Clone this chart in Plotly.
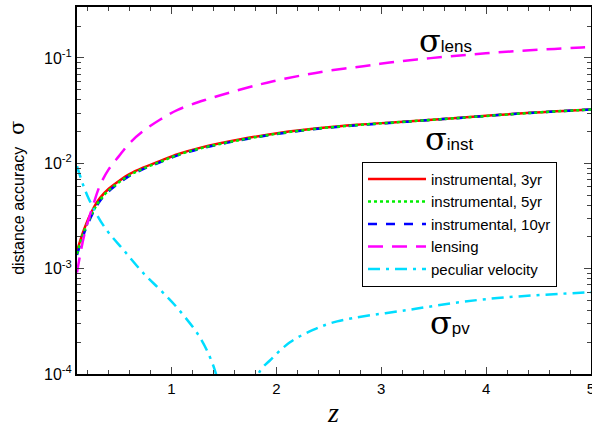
import plotly.graph_objects as go

# ---- data ----
z_inst = [0.1, 0.17, 0.26, 0.32, 0.40, 0.50, 0.60, 0.73, 0.89, 1.06, 1.28, 1.66, 2.04, 2.42, 2.77, 3.14, 3.75, 4.42, 5.0]
inst_3yr = [0.00147, 0.0024, 0.0038, 0.0047, 0.0057, 0.0068, 0.0079, 0.0091, 0.0105, 0.0122, 0.0141, 0.0169, 0.0195, 0.0216, 0.0232, 0.0246, 0.0271, 0.0302, 0.0325]
inst_5yr = [0.00138, 0.0023, 0.0036, 0.0045, 0.0055, 0.0066, 0.0077, 0.0089, 0.0103, 0.0120, 0.0139, 0.0167, 0.0193, 0.0215, 0.0231, 0.0245, 0.0270, 0.0301, 0.0324]
inst_10yr = [0.00135, 0.0022, 0.0035, 0.0044, 0.0054, 0.0065, 0.0076, 0.0088, 0.0102, 0.0119, 0.0138, 0.0166, 0.0192, 0.0214, 0.0230, 0.0244, 0.0270, 0.0301, 0.0324]

z_lens = [0.1, 0.17, 0.26, 0.32, 0.40, 0.50, 0.60, 0.73, 0.89, 1.06, 1.34, 1.72, 1.97, 2.23, 2.48, 2.83, 3.08, 3.34, 3.61, 3.87, 4.12, 4.38, 4.65, 4.91, 5.0]
lensing = [0.00092, 0.0021, 0.0042, 0.0062, 0.0087, 0.0117, 0.0155, 0.0202, 0.0259, 0.0322, 0.0405, 0.0521, 0.0602, 0.0680, 0.0752, 0.0836, 0.0905, 0.0968, 0.1026, 0.108, 0.1132, 0.1178, 0.122, 0.126, 0.1275]

# peculiar velocity dips below the axis between z~1.42 and z~1.83 (None = gap)
z_pv = [0.1, 0.2, 0.36, 0.55, 0.74, 0.9, 1.06, 1.28, 1.41, 1.46, None, 1.79, 1.84, 1.95, 2.13, 2.35, 2.58, 3.25, 4.0, 5.0]
pec_vel = [0.0094, 0.0049, 0.0025, 0.00148, 0.00089, 0.00062, 0.00042, 0.000216, 0.000112, 0.00007, None, 0.00007, 0.000105, 0.000138, 0.0002, 0.000262, 0.000316, 0.000405, 0.000514, 0.000598]

y_tickvals = [1e-4, 1e-3, 1e-2, 1e-1]
y_ticktext = ["10<sup>-4</sup>", "10<sup>-3</sup>", "10<sup>-2</sup>", "10<sup>-1</sup>"]
x_tickvals = [1, 2, 3, 4, 5]

y_minor = [m * 10.0 ** e for e in (-4, -3, -2) for m in range(2, 10)] + [0.2, 0.3]

fig = go.Figure()
fig.add_trace(go.Scatter(x=z_inst, y=inst_3yr, mode="lines", name="instrumental, 3yr",
                         line=dict(color="#ff0000", width=2.5, shape="spline"), legendrank=1))
fig.add_trace(go.Scatter(x=z_inst, y=inst_10yr, mode="lines", name="instrumental, 10yr",
                         line=dict(color="#0000ff", width=2.5, dash="dash", shape="spline"),
                         legendrank=3))
fig.add_trace(go.Scatter(x=z_inst, y=inst_5yr, mode="lines", name="instrumental, 5yr",
                         line=dict(color="#00ee00", width=2.5, dash="dot", shape="spline"),
                         legendrank=2))
fig.add_trace(go.Scatter(x=z_lens, y=lensing, mode="lines", name="lensing",
                         line=dict(color="#ff00ff", width=2.5, dash="15px,9px", shape="spline"),
                         legendrank=4))
fig.add_trace(go.Scatter(x=z_pv, y=pec_vel, mode="lines", name="peculiar velocity",
                         line=dict(color="#00ddff", width=2.5, dash="12px,6px,3px,6px", shape="spline"),
                         connectgaps=False, legendrank=5))

font_sans = "Liberation Sans, Arial, sans-serif"
font_serif = "Liberation Serif, Times New Roman, serif"

fig.update_layout(
    width=592, height=428,
    margin=dict(l=77, r=1, t=7, b=54, autoexpand=False),
    paper_bgcolor="white", plot_bgcolor="white",
    font=dict(family=font_sans, size=14, color="black"),
    showlegend=True,
    legend=dict(x=0.5545, y=0.578, xanchor="left", yanchor="top",
                bordercolor="black", borderwidth=1, bgcolor="white",
                font=dict(size=15, family=font_sans), tracegroupgap=0,
                itemwidth=58),
    xaxis=dict(range=[0.1, 5], tickvals=x_tickvals, ticks="inside", ticklen=7,
               showline=True, linecolor="black", linewidth=2, mirror="allticks",
               showgrid=False, zeroline=False, tickfont=dict(size=15),
               automargin=False, ticklabeloverflow="allow",
               minor=dict(dtick=0.2, tick0=0, ticks="inside", ticklen=4, showgrid=False)),
    yaxis=dict(type="log", range=[-4, -0.516], tickmode="array", tickvals=y_tickvals,
               ticktext=y_ticktext, ticks="inside", ticklen=7,
               showline=True, linecolor="black", linewidth=2, mirror="allticks",
               showgrid=False, zeroline=False, tickfont=dict(size=16),
               automargin=False, ticklabeloverflow="allow",
               minor=dict(tickmode="array", tickvals=y_minor, ticks="inside", ticklen=4,
                          showgrid=False)),
)

sig = "<span style='font-family:DejaVu Serif, serif;font-size:32px'>σ</span>"
fig.add_annotation(xref="paper", yref="paper", x=0.6615, y=0.907, xanchor="left", yanchor="middle",
                   text=sig + "<span style='font-size:17px'>lens</span>", showarrow=False)
fig.add_annotation(xref="paper", yref="paper", x=0.674, y=0.640, xanchor="left", yanchor="middle",
                   text=sig + "<span style='font-size:17px'>inst</span>", showarrow=False)
fig.add_annotation(xref="paper", yref="paper", x=0.683, y=0.139, xanchor="left", yanchor="middle",
                   text=sig + "<span style='font-size:17px'>pv</span>", showarrow=False)

fig.add_annotation(xref="paper", yref="paper", x=-0.1167, y=0.48, xanchor="center", yanchor="middle",
                   textangle=-90, showarrow=False,
                   text="<span style='font-size:16px'>distance accuracy</span>   "
                        "<span style='font-family:DejaVu Serif, serif;font-size:21px'>σ</span>")
fig.add_annotation(xref="paper", yref="paper", x=0.498, y=-0.104, xanchor="center", yanchor="middle",
                   showarrow=False, text="<i>z</i>",
                   font=dict(family=font_serif, size=28))

fig.write_html("out.html", config={"displayModeBar": False},
               post_script="document.body.style.margin='0';document.body.style.overflow='hidden';")
